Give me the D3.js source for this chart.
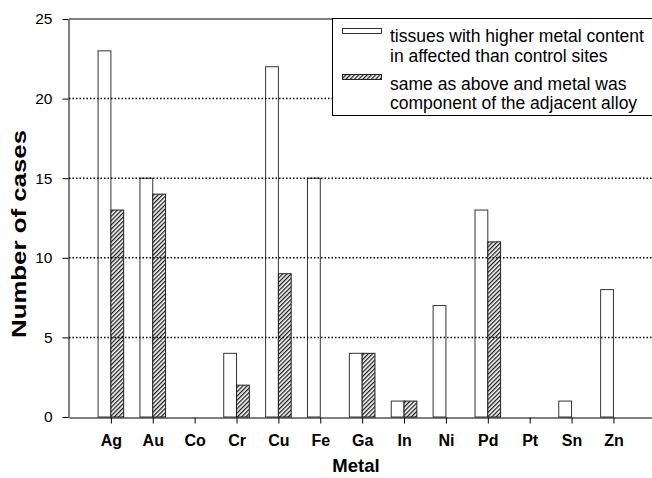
<!DOCTYPE html>
<html>
<head>
<meta charset="utf-8">
<script src="https://cdn.jsdelivr.net/npm/d3@7"></script>
<style>
  body { margin: 0; background: #fff; }
  svg { display: block; font-family: "Liberation Sans", Arial, sans-serif; }
</style>
</head>
<body>
<script>
// chart data
var metals = ["Ag", "Au", "Co", "Cr", "Cu", "Fe", "Ga", "In", "Ni", "Pd", "Pt", "Sn", "Zn"];
var higherContent = [23, 15, 0, 4, 22, 15, 4, 1, 7, 13, 0, 1, 8];
var alloyComponent = [13, 14, 0, 2, 9, 0, 4, 1, 0, 11, 0, 0, 0];
var yTicks = [0, 5, 10, 15, 20, 25];
var legendLines = [
    ["tissues with higher metal content", "in affected than control sites"],
    ["same as above and metal was", "component of the adjacent alloy"]
];

var width = 652, height = 478;
var plotLeft = 69, plotTop = 19, plotBottom = 417;
var barW = 12.8;

var svg = d3.select("body").append("svg")
    .attr("width", width)
    .attr("height", height);

var defs = svg.append("defs");
var pat = defs.append("pattern")
    .attr("id", "hatch")
    .attr("patternUnits", "userSpaceOnUse")
    .attr("width", 3)
    .attr("height", 3)
    .attr("patternTransform", "rotate(45)");
pat.append("rect").attr("width", 3).attr("height", 3).attr("fill", "#fff");
pat.append("line")
    .attr("x1", 0.6).attr("y1", 0).attr("x2", 0.6).attr("y2", 3)
    .attr("stroke", "#1a1a1a").attr("stroke-width", 1.4);

var x = d3.scaleLinear().domain([0, 14]).range([plotLeft, plotLeft + 14 * 41.88]);
var y = d3.scaleLinear().domain([0, 25]).range([plotBottom, plotTop]);

var rows = metals.map(function(m, i) {
    return { name: m, pos: i + 1, a: higherContent[i], b: alloyComponent[i] };
});

// open bars
svg.append("g").selectAll("rect")
    .data(rows.filter(function(d) { return d.a > 0; }))
    .enter().append("rect")
    .attr("x", function(d) { return x(d.pos) - barW; })
    .attr("y", function(d) { return y(d.a); })
    .attr("width", barW)
    .attr("height", function(d) { return y(0) - y(d.a); })
    .attr("fill", "none")
    .attr("stroke", "#333")
    .attr("stroke-width", 1);

// hatched bars
svg.append("g").selectAll("rect")
    .data(rows.filter(function(d) { return d.b > 0; }))
    .enter().append("rect")
    .attr("x", function(d) { return x(d.pos); })
    .attr("y", function(d) { return y(d.b); })
    .attr("width", barW)
    .attr("height", function(d) { return y(0) - y(d.b); })
    .attr("fill", "url(#hatch)")
    .attr("stroke", "#222")
    .attr("stroke-width", 1);

// dotted grid
svg.append("g").selectAll("line")
    .data([5, 10, 15, 20])
    .enter().append("line")
    .attr("x1", plotLeft).attr("x2", width)
    .attr("y1", function(d) { return y(d); })
    .attr("y2", function(d) { return y(d); })
    .attr("stroke", "#000")
    .attr("stroke-width", 1.5)
    .attr("stroke-dasharray", "1.5,2");

// top frame line
svg.append("line")
    .attr("x1", plotLeft).attr("x2", width)
    .attr("y1", y(25)).attr("y2", y(25))
    .attr("stroke", "#000").attr("stroke-width", 1);

// axes
var yAxis = svg.append("g")
    .attr("transform", "translate(" + (plotLeft - 0.5) + ",0)")
    .call(d3.axisLeft(y).tickValues(yTicks).tickSize(6).tickSizeOuter(0).tickPadding(10));
yAxis.selectAll("text").attr("font-size", 15.5).attr("fill", "#000");

var xAxis = svg.append("g")
    .attr("transform", "translate(0," + (plotBottom + 0.5) + ")")
    .call(d3.axisBottom(x).tickValues(rows.map(function(d) { return d.pos; }))
        .tickFormat(function(p) { return metals[p - 1]; })
        .tickSize(6).tickSizeOuter(0).tickPadding(11));
xAxis.selectAll("text").attr("font-size", 16).attr("font-weight", "bold")
    .attr("fill", "#000");
svg.selectAll(".domain, .tick line").attr("stroke", "#000");
yAxis.attr("font-family", null);
xAxis.attr("font-family", null);

// axis titles
svg.append("text")
    .attr("transform", "translate(26,234) rotate(-90)")
    .attr("text-anchor", "middle")
    .attr("font-size", 20)
    .attr("font-weight", "bold")
    .attr("textLength", 208)
    .attr("lengthAdjust", "spacingAndGlyphs")
    .text("Number of cases");

svg.append("text")
    .attr("x", 356).attr("y", 472)
    .attr("text-anchor", "middle")
    .attr("font-size", 18.5)
    .attr("font-weight", "bold")
    .text("Metal");

// legend
var lg = svg.append("g");
lg.append("rect")
    .attr("x", 332.5).attr("y", 18.5)
    .attr("width", 330).attr("height", 97)
    .attr("fill", "#fff").attr("stroke", "#000").attr("stroke-width", 1);
lg.append("rect")
    .attr("x", 342.5).attr("y", 28.5).attr("width", 39).attr("height", 5)
    .attr("fill", "#fff").attr("stroke", "#333");
lg.append("rect")
    .attr("x", 342.5).attr("y", 74.5).attr("width", 39).attr("height", 5)
    .attr("fill", "url(#hatch)").attr("stroke", "#222");
var baselines = [[42, 62], [90, 109]];
legendLines.forEach(function(lines, i) {
    lines.forEach(function(t, j) {
        lg.append("text")
            .attr("x", 390).attr("y", baselines[i][j])
            .attr("font-size", 17.5)
            .text(t);
    });
});
</script>
</body>
</html>
